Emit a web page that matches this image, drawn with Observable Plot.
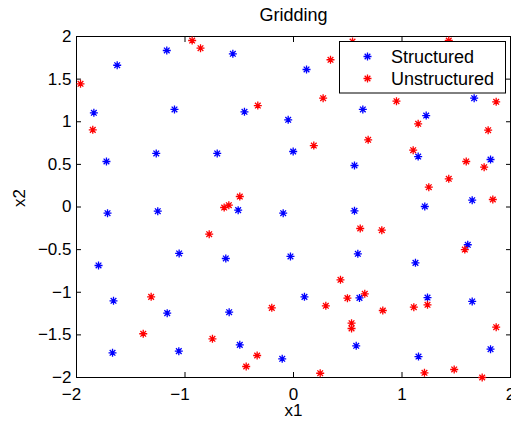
<!DOCTYPE html>
<html>
<head>
<meta charset="utf-8">
<script src="https://cdn.jsdelivr.net/npm/d3@7"></script>
<script src="https://cdn.jsdelivr.net/npm/@observablehq/plot@0.6"></script>
<style>
  html, body { margin: 0; padding: 0; background: #fff; }
  svg { display: block; }
</style>
</head>
<body>
<div id="chart"></div>
<script>
// Gridding sample sites: a structured set and an unstructured set on [-2, 2]²
const structuredX = [-1.625, -1.84, -1.724, -1.168, -1.097, -1.265, -0.559, -0.452, -0.703, -0.049,
  0.12, 0.639, -0.003, 0.562, 1.223, 1.149, 1.665, 1.816, 1.647,
  -1.714, -1.251, -0.51, -0.095, -1.797, -1.054, -0.624, -0.028, -1.659, -1.164, -0.593,
  -1.668, -1.057, -0.495, -0.104,
  0.562, 1.21, 0.593, 1.124, 1.606, 0.101, 0.608, 1.235, 1.647, 0.578, 1.152, 1.816];
const structuredY = [1.663, 1.105, 0.534, 1.836, 1.144, 0.628, 1.797, 1.117, 0.628, 1.023,
  1.613, 1.144, 0.651, 0.487, 1.073, 0.592, 1.276, 0.557, 0.08,
  -0.073, -0.049, -0.037, -0.073, -0.686, -0.545, -0.604, -0.58, -1.1, -1.245, -1.234,
  -1.71, -1.691, -1.617, -1.781,
  -0.045, 0.006, -0.549, -0.655, -0.443, -1.054, -1.066, -1.062, -1.108, -1.628, -1.754, -1.668];

const unstructuredX = [-1.963, -1.85, -0.934, -0.857, -0.329, -0.495, -0.596, -0.639,
  0.544, 1.431, 0.341, 0.273, 0.949, 1.868, 0.187, 0.688, 1.149, 1.794, 1.103, 1.592,
  1.757, 1.431, 1.247, 1.837,
  -0.777, -1.312, -0.2, -1.385, -0.747, -0.335, -0.436,
  0.615, 0.814, 1.579, 0.433, 0.657, 0.497, 0.298, 0.823, 1.109, 1.235, 0.535, 0.535,
  1.868, 0.246, 1.207, 1.481, 1.739];
const unstructuredY = [1.445, 0.905, 1.953, 1.863, 1.19, 0.123, 0.021, -0.006,
  1.941, 1.953, 1.727, 1.276, 1.241, 1.234, 0.721, 0.788, 0.976, 0.901, 0.666, 0.534,
  0.467, 0.331, 0.232, 0.088,
  -0.319, -1.054, -1.183, -1.487, -1.546, -1.742, -1.871,
  -0.252, -0.272, -0.499, -0.854, -1.018, -1.069, -1.159, -1.214, -1.175, -1.147, -1.363, -1.425,
  -1.41, -1.95, -1.945, -1.906, -2.0];

const seriesNames = ["Structured", "Unstructured"];
const seriesColors = ["#0000ff", "#ff0000"];
const xTicks = [-2, -1, 0, 1, 2];
const yTicks = [-2, -1.5, -1, -0.5, 0, 0.5, 1, 1.5, 2];

const structured = structuredX.map((x, i) => ({x, y: structuredY[i]}));
const unstructured = unstructuredX.map((x, i) => ({x, y: unstructuredY[i]}));

// Eight-spoke asterisk marker
const asterisk8 = {
  draw(context, size) {
    const r = Math.sqrt(size / Math.PI);
    const d = r * Math.SQRT1_2;
    context.moveTo(-r, 0); context.lineTo(r, 0);
    context.moveTo(0, -r); context.lineTo(0, r);
    context.moveTo(-d, -d); context.lineTo(d, d);
    context.moveTo(-d, d); context.lineTo(d, -d);
  }
};

const fmt = d => d < 0 ? "\u2212" + Math.abs(d) : String(d);
const font = "'Liberation Sans', Arial, Helvetica, sans-serif";
const markerWidth = 1.3;

const chart = Plot.plot({
  width: 511,
  height: 423,
  marginLeft: 76,
  marginRight: 1,
  marginTop: 36,
  marginBottom: 46,
  style: {fontFamily: font, fontSize: "17px", background: "#fff", color: "#000", overflow: "visible"},
  x: {domain: [-2, 2]},
  y: {domain: [-2, 2]},
  marks: [
    Plot.frame({stroke: "#000", strokeWidth: 1}),
    // inward ticks on all four sides
    Plot.axisX(xTicks, {anchor: "bottom", tickSize: 5, dy: -5, fill: "none", label: null}),
    Plot.axisX(xTicks, {anchor: "top", tickSize: 5, dy: 5, fill: "none", label: null}),
    Plot.axisY(yTicks, {anchor: "left", tickSize: 5, dx: 5, fill: "none", label: null}),
    Plot.axisY(yTicks, {anchor: "right", tickSize: 5, dx: -5, fill: "none", label: null}),
    // tick labels; negative x labels keep the digits over the tick, the minus hangs left
    Plot.axisX(xTicks.filter(d => d < 0), {anchor: "bottom", tickSize: 0, tickPadding: 10, dx: -5, tickFormat: fmt, fontSize: 17, label: null}),
    Plot.axisX(xTicks.filter(d => d >= 0), {anchor: "bottom", tickSize: 0, tickPadding: 10, tickFormat: fmt, fontSize: 17, label: null}),
    Plot.axisY(yTicks, {anchor: "left", tickSize: 0, tickPadding: 5, tickFormat: fmt, fontSize: 17, label: null}),
    Plot.dot(structured, {x: "x", y: "y", symbol: asterisk8, r: 4, fill: "none", stroke: seriesColors[0], strokeWidth: markerWidth}),
    Plot.dot(unstructured, {x: "x", y: "y", symbol: asterisk8, r: 4, fill: "none", stroke: seriesColors[1], strokeWidth: markerWidth}),
    Plot.text(["Gridding"], {frameAnchor: "top", lineAnchor: "middle", dy: -21, fontSize: 18}),
    Plot.text(["x1"], {frameAnchor: "bottom", dy: 38, fontSize: 17}),
    Plot.text(["x2"], {frameAnchor: "left", dx: -57, rotate: -90, fontSize: 17})
  ]
});

// Boxed legend in the upper-right corner of the axes
const svg = d3.select(chart);
const legend = svg.append("g")
  .attr("font-family", font)
  .attr("font-size", 18)
  .attr("text-anchor", "start");
legend.append("rect")
  .attr("x", 339.5).attr("y", 41.5).attr("width", 166).attr("height", 51.5)
  .attr("fill", "#fff").attr("stroke", "#000").attr("stroke-width", 1);
const symbolPath = d3.symbol(asterisk8, Math.PI * 16)();
seriesNames.forEach((name, i) => {
  const cy = 56.5 + i * 22;
  legend.append("path")
    .attr("d", symbolPath)
    .attr("transform", `translate(367.5,${cy})`)
    .attr("fill", "none").attr("stroke", seriesColors[i]).attr("stroke-width", markerWidth);
  legend.append("text")
    .attr("x", 391).attr("y", cy + 6.3)
    .attr("fill", "#000")
    .text(name);
});

document.getElementById("chart").appendChild(chart);
</script>
</body>
</html>
